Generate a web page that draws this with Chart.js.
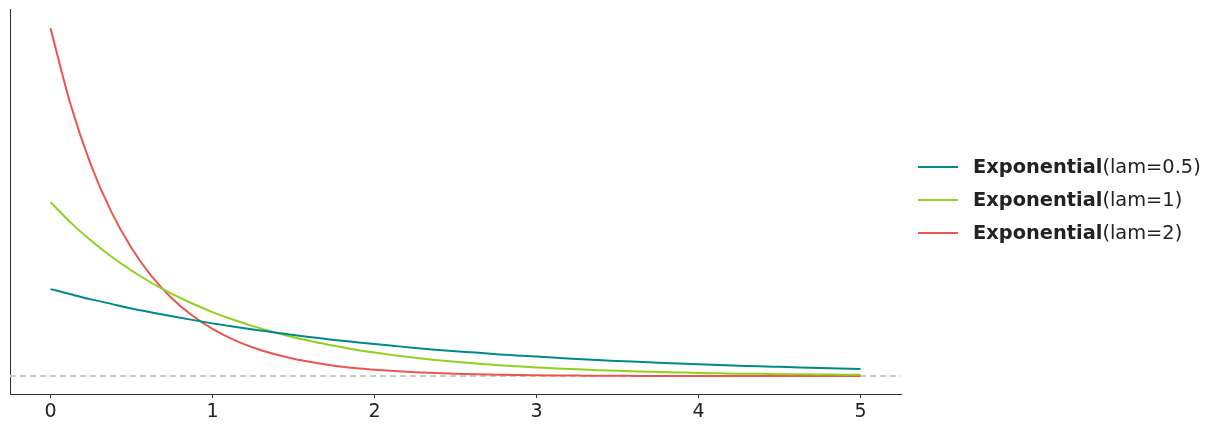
<!DOCTYPE html>
<html>
<head>
<meta charset="utf-8">
<script src="https://cdn.jsdelivr.net/npm/chart.js@4/dist/chart.umd.min.js"></script>
<style>
  html, body { margin: 0; padding: 0; background: #fff; }
  #wrap { position: relative; width: 1220px; height: 433px; }
  #legend { position: absolute; left: 918px; top: 150px; font-family: "DejaVu Sans", sans-serif; font-size: 19.4px; color: #222; }
  .row { height: 33px; display: flex; align-items: center; white-space: nowrap; }
  .swatch { width: 40px; height: 2px; margin-right: 15px; }
  .row b { font-weight: bold; }
</style>
</head>
<body>
<div id="wrap">
  <canvas id="chart" width="1220" height="433"></canvas>
  <div id="legend"></div>
</div>
<script>
// x positions and pdf values
const xs = [0, 0.125, 0.25, 0.375, 0.5, 0.625, 0.75, 0.875, 1, 1.125, 1.25, 1.375, 1.5, 1.625, 1.75, 1.875,
  2, 2.125, 2.25, 2.375, 2.5, 2.625, 2.75, 2.875, 3, 3.125, 3.25, 3.375, 3.5, 3.625, 3.75, 3.875,
  4, 4.125, 4.25, 4.375, 4.5, 4.625, 4.75, 4.875, 5];
const lam05 = [0.500, 0.470, 0.441, 0.415, 0.389, 0.366, 0.344, 0.323, 0.303, 0.285, 0.268, 0.252, 0.236, 0.222, 0.208, 0.196,
  0.184, 0.173, 0.162, 0.152, 0.143, 0.135, 0.126, 0.119, 0.112, 0.105, 0.098, 0.092, 0.087, 0.082, 0.077, 0.072,
  0.068, 0.064, 0.060, 0.056, 0.053, 0.050, 0.047, 0.044, 0.041];
const lam1 = [1.000, 0.882, 0.779, 0.687, 0.607, 0.535, 0.472, 0.417, 0.368, 0.325, 0.287, 0.253, 0.223, 0.197, 0.174, 0.153,
  0.135, 0.119, 0.105, 0.093, 0.082, 0.072, 0.064, 0.056, 0.050, 0.044, 0.039, 0.034, 0.030, 0.027, 0.024, 0.021,
  0.018, 0.016, 0.014, 0.013, 0.011, 0.010, 0.009, 0.008, 0.007];
const lam2 = [2.000, 1.558, 1.213, 0.945, 0.736, 0.573, 0.446, 0.348, 0.271, 0.211, 0.164, 0.128, 0.100, 0.078, 0.060, 0.047,
  0.037, 0.029, 0.022, 0.017, 0.013, 0.010, 0.008, 0.006, 0.005, 0.004, 0.003, 0.002, 0.002, 0.001, 0.001, 0.001,
  0.001, 0.000, 0.000, 0.000, 0.000, 0.000, 0.000, 0.000, 0.000];
const xTicks = [0, 1, 2, 3, 4, 5];

const names = ['lam=0.5', 'lam=1', 'lam=2'];
const colors = ['#00898a', '#8fd11f', '#eb564d'];
const series = [lam05, lam1, lam2];

const pts = (ys) => xs.map((x, i) => ({ x: x, y: ys[i] }));

const zeroLine = {
  id: 'zeroLine',
  beforeDatasetsDraw(chart) {
    const { ctx, chartArea, scales } = chart;
    const y = scales.y.getPixelForValue(0);
    ctx.save();
    ctx.strokeStyle = '#cccccc';
    ctx.lineWidth = 2;
    ctx.setLineDash([6, 4]);
    ctx.beginPath();
    ctx.moveTo(chartArea.left, y);
    ctx.lineTo(chartArea.right, y);
    ctx.stroke();
    ctx.restore();
  }
};

const ctx = document.getElementById('chart');
new Chart(ctx, {
  type: 'line',
  data: {
    datasets: series.map((s, i) => ({
      label: names[i],
      data: pts(s),
      borderColor: colors[i],
      borderWidth: 2,
      pointRadius: 0,
      fill: false,
      cubicInterpolationMode: 'monotone'
    }))
  },
  options: {
    responsive: false,
    animation: false,
    layout: { padding: { top: 9, right: 319, left: 0, bottom: 0 } },
    plugins: { legend: { display: false }, tooltip: { enabled: false } },
    scales: {
      x: {
        type: 'linear',
        min: -0.25,
        max: 5.25,
        afterBuildTicks: (axis) => { axis.ticks = xTicks.map(v => ({ value: v })); },
        afterFit: (axis) => { axis.height = 39; },
        grid: { display: true, drawOnChartArea: false, drawTicks: true, tickLength: 4, tickColor: '#333', tickWidth: 1 },
        border: { display: true, color: '#333', width: 1 },
        ticks: { color: '#222', padding: 3, maxRotation: 0, font: { family: 'DejaVu Sans', size: 19 } }
      },
      y: {
        min: -0.103,
        max: 2.11,
        afterFit: (axis) => { axis.width = 10; },
        grid: { display: false },
        border: { display: true, color: '#333', width: 1 },
        ticks: { display: false }
      }
    }
  },
  plugins: [zeroLine]
});

const legend = document.getElementById('legend');
names.forEach((n, i) => {
  const row = document.createElement('div');
  row.className = 'row';
  row.innerHTML = '<span class="swatch" style="background:' + colors[i] + '"></span><b>Exponential</b>(' + n + ')';
  legend.appendChild(row);
});
</script>
</body>
</html>
